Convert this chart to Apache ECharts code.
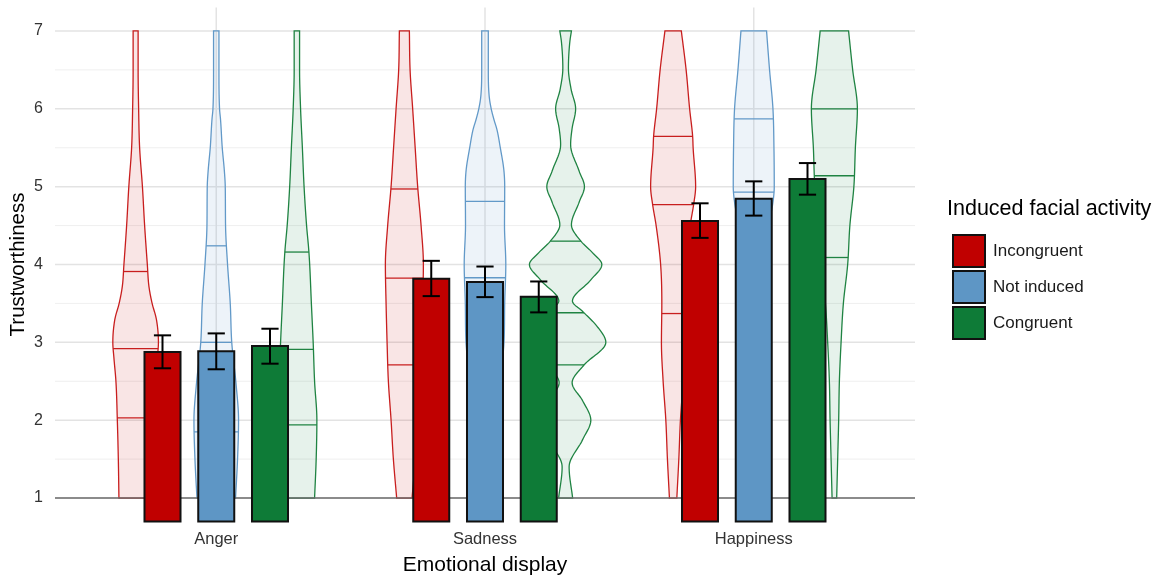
<!DOCTYPE html>
<html><head><meta charset="utf-8">
<script src="https://cdn.jsdelivr.net/npm/echarts@6/dist/echarts.min.js"></script>
<style>html,body{margin:0;padding:0;background:#fff}#chart{width:1157px;height:575px}</style>
</head><body><div id="chart"></div>
<script>
// ---------------- DATA ----------------
const categories = ['Anger', 'Sadness', 'Happiness'];
const groups = ['Incongruent', 'Not induced', 'Congruent'];
const yTicks = [1, 2, 3, 4, 5, 6, 7];
const yMinorTicks = [1.5, 2.5, 3.5, 4.5, 5.5, 6.5];
const baselineValue = 1;

const meanIncongruent = [2.876, 3.816, 4.560];
const meanNotInduced  = [2.885, 3.774, 4.846];
const meanCongruent   = [2.953, 3.585, 5.098];
const lowIncongruent  = [2.667, 3.594, 4.342];
const highIncongruent = [3.090, 4.047, 4.786];
const lowNotInduced   = [2.654, 3.581, 4.628];
const highNotInduced  = [3.115, 3.974, 5.068];
const lowCongruent    = [2.726, 3.385, 4.897];
const highCongruent   = [3.175, 3.782, 5.303];

// violin outlines: [rating, density (half-width)]
const violinAngerIncongruent = [[1,16.7],[1.5,17.3],[2,18.3],[2.5,19.7],[2.8,21.7],[3,22.8],[3.3,20.7],[3.5,16.5],[3.72,13.3],[4,11.7],[4.5,9],[5,6.8],[5.5,4],[6,3],[6.5,2.5],[7,2.5]];
const violinAngerNotInduced = [[1,19.3],[1.5,21.3],[2,22.3],[2.44,20],[3,15.5],[3.5,14],[4,11.3],[4.5,9.3],[5,9],[5.22,8],[5.5,6],[5.86,4.3],[6,3.3],[6.5,2.7],[7,2.7]];
const violinAngerCongruent = [[1,17.7],[1.5,19.3],[2,20],[2.5,17.7],[3,16.3],[3.5,14.5],[4,12.8],[4.2,11.8],[4.5,9.7],[5,7.2],[5.5,5.5],[6,3.7],[6.5,2.7],[7,2.7]];
const violinSadnessIncongruent = [[1,7.7],[1.5,11],[2,13.3],[2.5,16],[3,17.3],[3.5,18.3],[4,19],[4.5,16.7],[5,13.3],[5.5,10.8],[6,8.3],[6.5,5.7],[7,5]];
const violinSadnessNotInduced = [[1,8],[1.5,10],[2,12.5],[2.5,15],[3,19],[3.5,19.7],[4,20.8],[4.5,19.5],[5,19.7],[5.22,18.8],[5.5,15.3],[5.73,12],[5.86,9],[6,6.2],[6.16,4.2],[6.5,3.3],[7,3.3]];
const violinSadnessCongruent = [[1,7],[1.4,3.5],[1.75,17],[2,25.2],[2.25,17],[2.48,6.5],[2.71,18.5],[3,40.2],[3.2,31.8],[3.4,16.8],[3.53,6.8],[3.8,25],[4,36.2],[4.15,27],[4.3,15.3],[4.51,5.8],[4.8,13.5],[5,18.8],[5.2,13.5],[5.54,5],[5.75,6.5],[6,10],[6.25,5.5],[6.52,2.8],[6.86,4.2],[7,5.8]];
const violinHappinessIncongruent = [[1,3.7],[1.5,5.7],[2,7.3],[2.5,10],[3,11.7],[3.5,11.3],[4,12.5],[4.5,17],[4.77,20.5],[5,22.5],[5.5,20],[5.65,19.5],[6,16.5],[6.5,13],[7,8.2]];
const violinHappinessNotInduced = [[1,2],[1.5,2.5],[2,3],[2.5,4],[3,5],[3.5,7],[4,10],[4.5,15],[4.8,19.2],[5,20.5],[5.5,20.2],[6,19.2],[6.5,15.8],[7,12.8]];
const violinHappinessCongruent = [[1,2.3],[1.5,3.3],[2,4.3],[2.5,5],[3,6.7],[3.5,9],[4,13.3],[4.5,15.5],[5,19.5],[5.5,21],[6,23],[6.5,18.3],[7,14.2]];

// quartiles drawn inside the violins
const quantAngerIncongruent = [2.03, 2.92, 3.91];
const quantAngerNotInduced = [1.85, 3.00, 4.24];
const quantAngerCongruent = [1.94, 2.91, 4.16];
const quantSadnessIncongruent = [2.71, 3.825, 4.97];
const quantSadnessNotInduced = [3.00, 3.83, 4.81];
const quantSadnessCongruent = [2.71, 3.38, 4.30];
const quantHappinessIncongruent = [3.37, 4.77, 5.645];
const quantHappinessNotInduced = [4.10, 4.93, 5.87];
const quantHappinessCongruent = [4.09, 5.14, 6.00];

// ---------------- STYLE / LAYOUT ----------------
const FONT = "'Liberation Sans', Arial, Helvetica, sans-serif";
const colors = ['#C00000', '#5E96C5', '#0E7B37'];
const outlineColors = ['#C81E1E', '#6299C8', '#1F8342'];
const fillColors = ['rgba(192,0,0,0.10)', 'rgba(94,150,197,0.11)', 'rgba(14,123,55,0.10)'];
const violinOffsets = [-0.3, 0, 0.3];
const barOffsets = [-0.2, 0, 0.2];
const barWidth = 0.134;
const capWidth = 0.064;
const densityToUnits = 1 / 268.75;
const xMin = -0.6, xMax = 2.6, yMin = 0.7, yMax = 7.3;

const violins = [
  [violinAngerIncongruent, violinSadnessIncongruent, violinHappinessIncongruent],
  [violinAngerNotInduced, violinSadnessNotInduced, violinHappinessNotInduced],
  [violinAngerCongruent, violinSadnessCongruent, violinHappinessCongruent]
];
const quants = [
  [quantAngerIncongruent, quantSadnessIncongruent, quantHappinessIncongruent],
  [quantAngerNotInduced, quantSadnessNotInduced, quantHappinessNotInduced],
  [quantAngerCongruent, quantSadnessCongruent, quantHappinessCongruent]
];
const means = [meanIncongruent, meanNotInduced, meanCongruent];
const lows = [lowIncongruent, lowNotInduced, lowCongruent];
const highs = [highIncongruent, highNotInduced, highCongruent];

// smooth drawing of outline (monotone cubic Hermite through the read points)
function smoothOutline(pts) {
  const n = pts.length, d = [], m = [];
  for (let i = 0; i < n - 1; i++) d.push((pts[i+1][1] - pts[i][1]) / (pts[i+1][0] - pts[i][0]));
  for (let i = 0; i < n; i++) {
    if (i === 0) m.push(d[0]);
    else if (i === n - 1) m.push(d[n-2]);
    else m.push(d[i-1] * d[i] <= 0 ? 0 : (d[i-1] + d[i]) / 2);
  }
  for (let i = 0; i < n - 1; i++) {
    if (d[i] === 0) { m[i] = 0; m[i+1] = 0; continue; }
    const a = m[i] / d[i], b = m[i+1] / d[i], s = a*a + b*b;
    if (s > 9) { const t = 3 / Math.sqrt(s); m[i] = t*a*d[i]; m[i+1] = t*b*d[i]; }
  }
  const out = [];
  for (let i = 0; i < n - 1; i++) {
    const y0 = pts[i][0], y1 = pts[i+1][0], h = y1 - y0;
    const steps = 16;
    for (let s = 0; s < steps; s++) {
      const t = s / steps, t2 = t*t, t3 = t2*t;
      const w = (2*t3-3*t2+1)*pts[i][1] + (t3-2*t2+t)*h*m[i] + (-2*t3+3*t2)*pts[i+1][1] + (t3-t2)*h*m[i+1];
      out.push([y0 + t*h, Math.max(0.5, w)]);
    }
  }
  out.push(pts[n-1]);
  return out;
}
function widthAt(dense, y) {
  for (let i = 0; i < dense.length - 1; i++) {
    if (y >= dense[i][0] && y <= dense[i+1][0]) {
      const f = (y - dense[i][0]) / (dense[i+1][0] - dense[i][0]);
      return dense[i][1] + f * (dense[i+1][1] - dense[i][1]);
    }
  }
  return dense[dense.length-1][1];
}
const denseViolins = violins.map(g => g.map(smoothOutline));

const chart = echarts.init(document.getElementById('chart'), null, {renderer: 'canvas'});

const violinData = [];
groups.forEach((g, gi) => categories.forEach((c, ci) => violinData.push([ci, gi])));

const barSeries = groups.map((g, gi) => ({
  name: g,
  type: 'custom',
  z: 5,
  itemStyle: {color: colors[gi]},
  encode: {x: 0, y: 1},
  data: categories.map((c, ci) => [ci, means[gi][ci], lows[gi][ci], highs[gi][ci]]),
  renderItem: function (params, api) {
    const ci = api.value(0), m = api.value(1), lo = api.value(2), hi = api.value(3);
    const cx = ci + barOffsets[gi];
    const tl = api.coord([cx - barWidth / 2, m]);
    const tr = api.coord([cx + barWidth / 2, m]);
    const bottom = params.coordSys.y + params.coordSys.height;
    const pLo = api.coord([cx, lo]), pHi = api.coord([cx, hi]);
    const capHalf = api.size([capWidth, 0])[0] / 2;
    const es = {stroke: '#000', lineWidth: 2};
    return {
      type: 'group',
      children: [
        {type: 'rect', shape: {x: tl[0], y: tl[1], width: tr[0] - tl[0], height: bottom - tl[1]},
         style: {fill: colors[gi], stroke: '#111', lineWidth: 2}},
        {type: 'line', shape: {x1: pLo[0], y1: pLo[1], x2: pHi[0], y2: pHi[1]}, style: es},
        {type: 'line', shape: {x1: pLo[0] - capHalf, y1: pLo[1], x2: pLo[0] + capHalf, y2: pLo[1]}, style: es},
        {type: 'line', shape: {x1: pHi[0] - capHalf, y1: pHi[1], x2: pHi[0] + capHalf, y2: pHi[1]}, style: es}
      ]
    };
  }
}));

const option = {
  backgroundColor: '#fff',
  animation: false,
  textStyle: {fontFamily: FONT},
  grid: {left: 55, right: 242, top: 7.6, bottom: 53.6, containLabel: false, outerBoundsMode: 'none'},
  xAxis: {
    type: 'value', min: xMin, max: xMax,
    axisLine: {show: false}, axisTick: {show: false}, splitLine: {show: false},
    axisLabel: {customValues: categories.map((c, i) => i), formatter: v => categories[Math.round(v)],
      fontSize: 16.5, color: '#333333', margin: 10, fontFamily: FONT},
    name: 'Emotional display', nameLocation: 'middle', nameGap: 33, nameMoveOverlap: false,
    nameTextStyle: {fontSize: 21, color: '#000', fontFamily: FONT}
  },
  yAxis: {
    type: 'value', min: yMin, max: yMax,
    axisLine: {show: false}, axisTick: {show: false}, splitLine: {show: false},
    axisLabel: {customValues: yTicks, fontSize: 16, color: '#333333', margin: 12, fontFamily: FONT},
    name: 'Trustworthiness', nameLocation: 'middle', nameGap: 26, nameRotate: 90, nameMoveOverlap: false,
    nameTextStyle: {fontSize: 20.5, color: '#000', fontFamily: FONT}
  },
  legend: {
    data: groups, orient: 'vertical', left: 947, top: 229,
    itemWidth: 32, itemHeight: 32, itemGap: 2, icon: 'rect', selectedMode: false,
    itemStyle: {borderColor: '#111', borderWidth: 2},
    textStyle: {fontSize: 17, color: '#1a1a1a', fontFamily: FONT, padding: [0, 0, 0, 3]}
  },
  graphic: [{
    type: 'text', left: 947, top: 198,
    style: {text: 'Induced facial activity', fontSize: 21.5, fill: '#000', fontFamily: FONT}
  }],
  series: [
    {
      name: 'grid-lines', type: 'custom', z: 1, silent: true,
      data: [[0, 0]],
      renderItem: function (params, api) {
        const cs = params.coordSys, children = [];
        yMinorTicks.forEach(v => {
          const y = api.coord([0, v])[1];
          children.push({type: 'line', shape: {x1: cs.x, y1: y, x2: cs.x + cs.width, y2: y}, style: {stroke: '#EBEBEB', lineWidth: 0.8}});
        });
        yTicks.forEach(v => {
          const y = api.coord([0, v])[1];
          children.push({type: 'line', shape: {x1: cs.x, y1: y, x2: cs.x + cs.width, y2: y}, style: {stroke: '#E3E3E3', lineWidth: 1.5}});
        });
        categories.forEach((c, i) => {
          const x = api.coord([i, 0])[0];
          children.push({type: 'line', shape: {x1: x, y1: cs.y, x2: x, y2: cs.y + cs.height}, style: {stroke: '#E3E3E3', lineWidth: 1.5}});
        });
        return {type: 'group', children};
      }
    },
    {
      name: 'violins', type: 'custom', z: 2, silent: true,
      data: violinData,
      renderItem: function (params, api) {
        const ci = api.value(0), gi = api.value(1);
        const dense = denseViolins[gi][ci];
        const cx = ci + violinOffsets[gi];
        const unit = api.size([1, 0])[0];
        const right = [], left = [];
        dense.forEach(([y, w]) => {
          const p = api.coord([cx, y]);
          const hw = w * densityToUnits * unit;
          right.push([p[0] + hw, p[1]]);
          left.push([p[0] - hw, p[1]]);
        });
        const children = [{type: 'polygon', shape: {points: right.concat(left.reverse())},
          style: {fill: fillColors[gi], stroke: outlineColors[gi], lineWidth: 1.3}}];
        quants[gi][ci].forEach(q => {
          const p = api.coord([cx, q]);
          const hw = widthAt(dense, q) * densityToUnits * unit;
          children.push({type: 'line', shape: {x1: p[0] - hw, y1: p[1], x2: p[0] + hw, y2: p[1]},
            style: {stroke: outlineColors[gi], lineWidth: 1.3}});
        });
        return {type: 'group', children};
      }
    },
    {
      name: 'baseline', type: 'custom', z: 3, silent: true,
      data: [[0, baselineValue]],
      renderItem: function (params, api) {
        const cs = params.coordSys;
        const y = api.coord([0, api.value(1)])[1];
        return {type: 'line', shape: {x1: cs.x, y1: y, x2: cs.x + cs.width, y2: y}, style: {stroke: '#6B6B6B', lineWidth: 1.6}};
      }
    }
  ].concat(barSeries)
};
chart.setOption(option);
</script>
</body></html>
